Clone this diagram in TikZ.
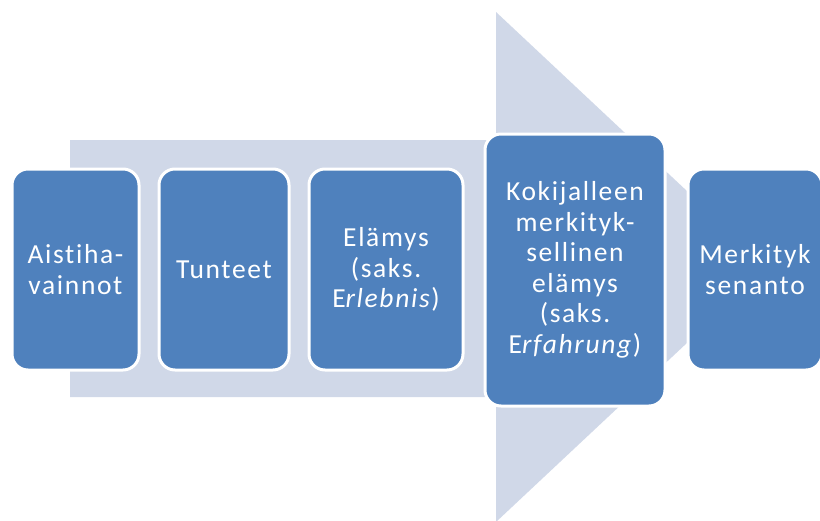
\documentclass[tikz,border=0pt]{standalone}
\usepackage{fontspec}
\setmainfont{Carlito}[LetterSpace=6, Ligatures={NoCommon}]
\definecolor{arrowgray}{RGB}{208,216,232}
\definecolor{stageblue}{RGB}{79,129,189}
\tikzset{
  stage/.style={draw=white, line width=3pt, fill=stageblue, rounded corners=16pt,
    text=white, align=center, inner sep=0pt, minimum height=201pt,
    font=\fontsize{27.5}{30.5}\selectfont},
}
\begin{document}
\begin{tikzpicture}[x=1pt,y=-1pt]
  % bounding box
  \useasboundingbox (0,0) rectangle (820,520);
  % big arrow in the back
  \fill[arrowgray] (70,140) -- (496,140) -- (496,12) -- (768,267)
    -- (496,522) -- (496,397) -- (70,397) -- cycle;
  % stages
  \node[stage, minimum width=127pt] (aisti) at (75.5,269.5) {Aistiha-\\vainnot};
  \node[stage, minimum width=130pt] (tunteet) at (224,269.5) {Tunteet};
  \node[stage, minimum width=154pt] (elamys) at (386,269.5) {Elämys\\(saks.\\E\textit{rlebnis})};
  \node[stage, minimum width=180pt, minimum height=272pt] (kokija) at (575,270)
    {Kokijalleen\\merkityk-\\sellinen\\elämys\\(saks.\\E\textit{rfahrung})};
  \node[stage, minimum width=134pt] (anto) at (755,269.5) {Merkityk\\senanto};
\end{tikzpicture}
\end{document}
